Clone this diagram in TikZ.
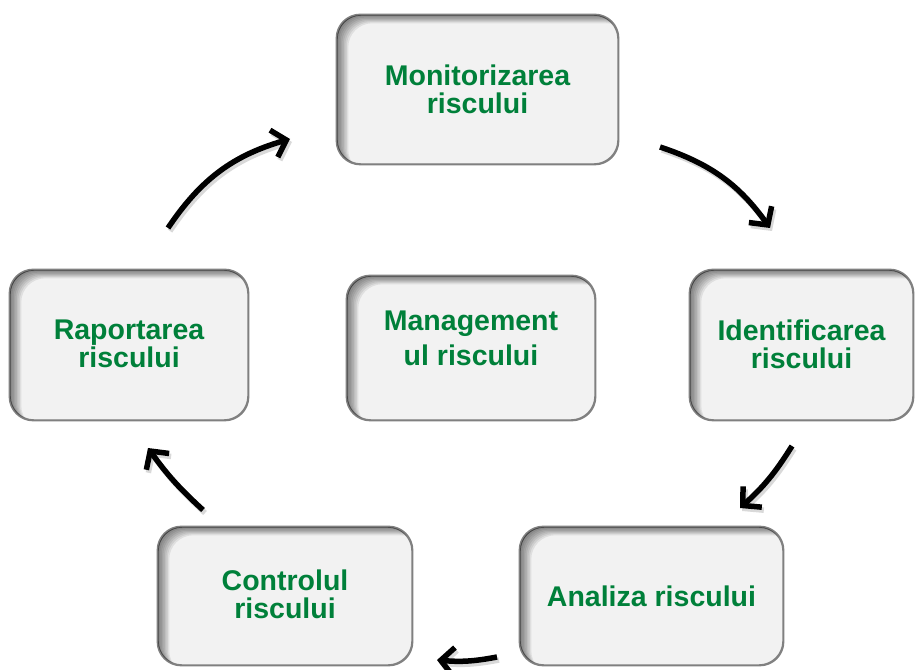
\documentclass[tikz,border=0pt]{standalone}
\usepackage{fontspec}
\setmainfont{Liberation Sans}
\usetikzlibrary{arrows.meta,calc}
\definecolor{txtgreen}{RGB}{0,128,58}
\definecolor{boxfill}{RGB}{242,242,242}
\definecolor{boxline}{RGB}{128,128,128}
\tikzset{
  riskbox/.style={draw=boxline, line width=1.4pt, fill=boxfill, rounded corners=24pt,
    inner sep=0pt, align=center, text=txtgreen,
    font=\bfseries\fontsize{28.5}{28}\selectfont},
  flowarrow/.style={line width=5.5pt, -{Straight Barb[length=13pt,width=28pt,line width=5.5pt]}},
  flowshadow/.style={line width=5.5pt, black, opacity=0.15, -{Straight Barb[length=13pt,width=28pt,line width=5.5pt]}},
}
\newcommand\innershadow[1]{%
  \begin{scope}
    \clip[rounded corners=24pt] (#1.south west) rectangle (#1.north east);
    \foreach \d in {1.5,3,...,12} {
      \fill[black, opacity=0.075, even odd rule, rounded corners=24pt]
        ([shift={(-60,-60)}]#1.south west) rectangle ([shift={(60,60)}]#1.north east)
        ([shift={(\d,-0.75*\d)}]#1.south west) rectangle ([shift={(\d,-0.75*\d)}]#1.north east);
    }
  \end{scope}
  \draw[draw=boxline, line width=1.4pt, rounded corners=24pt] (#1.south west) rectangle (#1.north east);}
\begin{document}
\begin{tikzpicture}[x=1pt,y=1pt]
\useasboundingbox (0,0) rectangle (915,669);
\fill[white] (0,0) rectangle (915,669);

\node[riskbox, minimum width=281pt, minimum height=149pt] (mon) at (477.5,579.5) {};
\node[riskbox, minimum width=238pt, minimum height=150pt] (rap) at (129,324) {};
\node[riskbox, minimum width=248pt, minimum height=144pt] (man) at (471,321) {};
\node[riskbox, minimum width=223pt, minimum height=150pt] (ide) at (801.5,324) {};
\node[riskbox, minimum width=254pt, minimum height=138pt] (con) at (285,73) {};
\node[riskbox, minimum width=263pt, minimum height=138pt] (ana) at (651.5,73) {};

\innershadow{mon}
\innershadow{rap}
\innershadow{man}
\innershadow{ide}
\innershadow{con}
\innershadow{ana}

\tikzset{lbl/.style={align=center, text=txtgreen, inner sep=0pt, font=\bfseries\fontsize{28.5}{28}\selectfont}}
\node[lbl] (tmon) at (mon.center) {Monitorizarea\\riscului};
\node[lbl] (trap) at ([yshift=1pt]rap.center) {Raportarea\\riscului};
\node[lbl, font=\bfseries\fontsize{28.5}{35}\selectfont] (tman) at ([yshift=10pt]man.center) {Management\\ul riscului};
\node[lbl] (tide) at ([yshift=1pt]ide.center) {Identificarea\\riscului};
\node[lbl] (tcon) at ([yshift=2pt]con.center) {Controlul\\riscului};
\node[lbl] (tana) at ([yshift=-0pt]ana.center) {Analiza riscului};

\coordinate (a1s) at (168,441); \coordinate (a1e) at (290,530);
\coordinate (a2s) at (660,522); \coordinate (a2e) at (770,441);
\coordinate (a3s) at (792,223); \coordinate (a3e) at (740,161);
\coordinate (a4s) at (497,12);  \coordinate (a4e) at (437,9);
\coordinate (a5s) at (203,159); \coordinate (a5e) at (148,221);

\foreach \s/\e/\b in {a1s/a1e/20, a2s/a2e/18, a3s/a3e/8, a4s/a4e/8, a5s/a5e/6} {
  \draw[flowshadow] ([shift={(2,-3)}]\s) to[bend left=\b] ([shift={(2,-3)}]\e);
  \draw[flowarrow] (\s) to[bend left=\b] (\e);
}
\end{tikzpicture}
\end{document}
